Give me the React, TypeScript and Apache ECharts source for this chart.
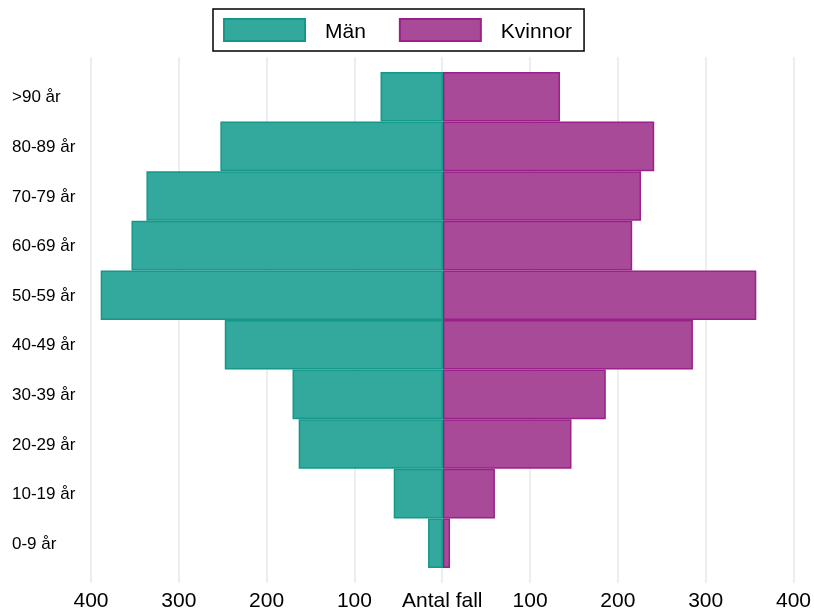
import React, { useEffect, useRef } from "react";
import * as echarts from "echarts";

const categories = ["0-9 år", "10-19 år", "20-29 år", "30-39 år", "40-49 år", "50-59 år", "60-69 år", "70-79 år", "80-89 år", ">90 år"];
const men = [17, 56, 164, 171, 248, 389, 354, 337, 253, 71];
const women = [8, 59, 146, 185, 284, 356, 215, 225, 240, 133];
const seriesNames = ["Män", "Kvinnor"];
const zeroLabel = "Antal fall";

const FONT = "'Liberation Sans', Arial, sans-serif";

export default function App() {
  const ref = useRef<HTMLDivElement>(null);
  useEffect(() => {
    if (!ref.current) return;
    const chart = echarts.init(ref.current, undefined, { renderer: "svg" });
    chart.setOption({
      animation: false,
      textStyle: { fontFamily: FONT },
      legend: {
        data: seriesNames,
        icon: "rect",
        left: 213,
        top: 9,
        padding: [9, 12, 9, 10],
        borderColor: "#000",
        borderWidth: 1.5,
        itemWidth: 81,
        itemHeight: 22,
        itemGap: 33,
        textStyle: { fontSize: 21, color: "#000", fontFamily: FONT, padding: [0, 0, 0, 15] },
      },
      grid: [
        { left: 91, right: 19, top: 72, bottom: 44 },
        { left: 91, right: 19, top: 57, bottom: 29 },
      ],
      xAxis: [
        {
          gridIndex: 0,
          type: "value",
          min: -400,
          max: 400,
          interval: 100,
          show: false,
        },
        {
          gridIndex: 1,
          type: "value",
          min: -400,
          max: 400,
          interval: 100,
          axisLine: { show: false },
          axisTick: { show: false },
          splitLine: { show: true, lineStyle: { color: "#e9eff2", width: 2 } },
          axisLabel: {
            fontSize: 21,
            color: "#000",
            fontFamily: FONT,
            margin: 6,
            formatter: (v: number) => (v === 0 ? zeroLabel : String(Math.abs(v))),
          },
        },
      ],
      yAxis: [
        {
          gridIndex: 0,
          type: "category",
          data: categories,
          axisLine: { show: false },
          axisTick: { show: false },
          splitLine: { show: false },
          axisLabel: {
            align: "left",
            margin: 79,
            fontSize: 17,
            color: "#000",
            fontFamily: FONT,
          },
        },
        {
          gridIndex: 1,
          type: "value",
          show: false,
        },
      ],
      series: [
        {
          name: seriesNames[0],
          type: "bar",
          xAxisIndex: 0,
          yAxisIndex: 0,
          stack: "total",
          barCategoryGap: 0,
          data: men.map((v) => -v),
          itemStyle: { color: "#33a89c", borderColor: "#15988a", borderWidth: 1.5 },
        },
        {
          name: seriesNames[1],
          type: "bar",
          xAxisIndex: 0,
          yAxisIndex: 0,
          stack: "total",
          barCategoryGap: 0,
          data: women,
          itemStyle: { color: "#a84a98", borderColor: "#9a2189", borderWidth: 1.5 },
        },
      ],
    });
    return () => chart.dispose();
  }, []);
  return <div ref={ref} style={{ position: "fixed", left: 0, top: 0, width: 814, height: 612 }} />;
}
